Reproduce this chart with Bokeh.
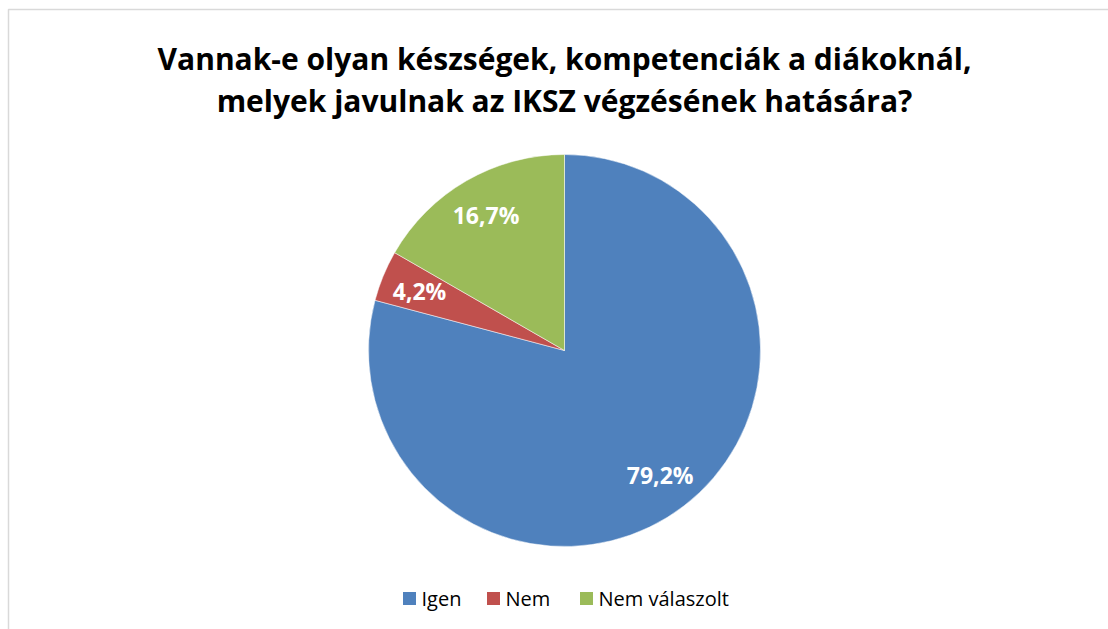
import numpy as np
from bokeh.plotting import figure
from bokeh.models import Range1d, ColumnDataSource
from bokeh.core.properties import value
from bokeh.embed import file_html
from bokeh.resources import INLINE

# Survey answers (share of respondents, %)
categories = ["Igen", "Nem", "Nem válaszolt"]
shares = [79.2, 4.2, 16.7]
labels = ["79,2%", "4,2%", "16,7%"]
colors = ["#4F81BD", "#C0504D", "#9BBB59"]
title_lines = ["Vannak-e olyan készségek, kompetenciák a diákoknál,",
               "melyek javulnak az IKSZ végzésének hatására?"]

W, H = 1108, 629
FONT = "Open Sans"

p = figure(width=W, height=H, output_backend="svg", toolbar_location=None,
           x_range=Range1d(0, W), y_range=Range1d(0, H),
           min_border=0, outline_line_color=None)
p.axis.visible = False
p.grid.visible = False
p.background_fill_color = "white"
p.border_fill_color = "white"

# chart frame (only top/left edges fall inside the window)
p.quad(left=[8], right=[W + 20], bottom=[-20], top=[H - 9],
       fill_color=None, line_color="#D9D9D9", line_width=1.5)

# pie geometry
cx, cy, r = 564, H - 350, 196
frac = np.array(shares) / sum(shares)
cum = np.concatenate([[0], np.cumsum(frac)])
start = np.pi / 2 - 2 * np.pi * cum[:-1]
end = np.pi / 2 - 2 * np.pi * cum[1:]
mid = (start + end) / 2

src = ColumnDataSource(dict(start=start, end=end, color=colors,
                            lx=cx + 0.8 * r * np.cos(mid),
                            ly=cy + 0.8 * r * np.sin(mid),
                            label=labels))
p.wedge(x=cx, y=cy, radius=r, start_angle="start", end_angle="end",
        direction="clock", fill_color="color", line_color="white",
        line_width=0.5, source=src)
p.text(x="lx", y="ly", text="label", source=src, text_color="white",
       text_font=value(FONT), text_font_style="bold", text_font_size="23px",
       text_align="center", text_baseline="middle")

# title
p.text(x=[W / 2 + 10, W / 2 + 10], y=[H - 58, H - 100], text=title_lines,
       text_font=value(FONT), text_font_style="bold", text_font_size="30px",
       text_align="center", text_baseline="middle", text_color="black")

# legend
leg_x = [409, 493, 586]
leg_y = H - 598
p.scatter(x=leg_x, y=[leg_y] * 3, marker="square", size=13,
          fill_color=colors, line_color=None)
p.text(x=[x + 12 for x in leg_x], y=[leg_y] * 3, text=categories,
       text_font=value(FONT), text_font_size="20px", text_align="left",
       text_baseline="middle", text_color="black")

open("out.html", "w").write(file_html(p, INLINE))
